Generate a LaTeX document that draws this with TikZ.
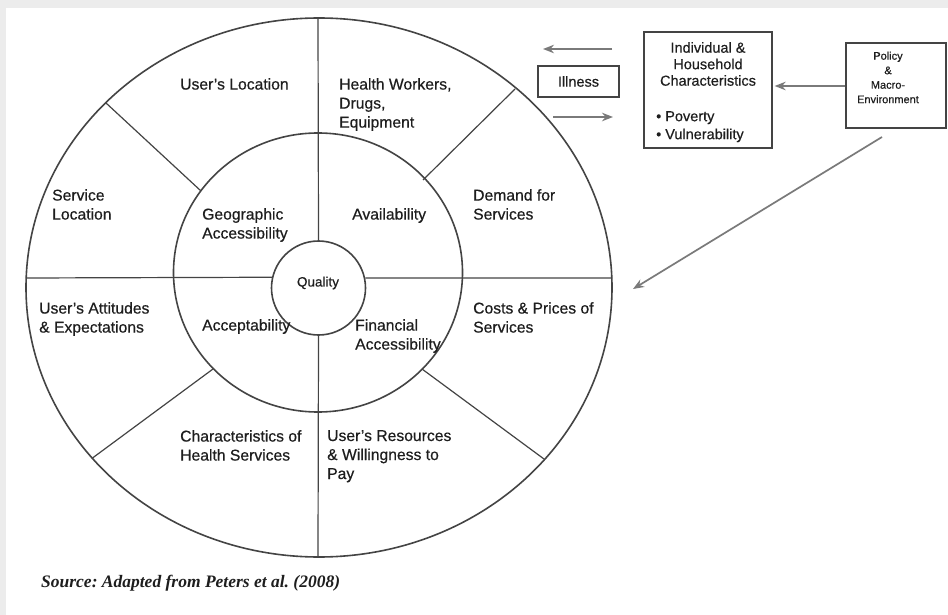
\documentclass[tikz,border=0pt]{standalone}
\usepackage{fontspec}
\setmainfont[FakeBold=0.5]{Liberation Sans}
\newfontfamily\srcfont{Liberation Serif}
\usetikzlibrary{arrows.meta}
\definecolor{txt}{HTML}{1E1E1E}
\definecolor{ln}{HTML}{444444}
\definecolor{arr}{HTML}{7A7A7A}
\definecolor{bg}{HTML}{ECECEC}
\frenchspacing
\begin{document}
\begin{tikzpicture}[x=1pt,y=-1pt,
  lbl/.style={anchor=north west, align=left, inner sep=0pt, text=txt,
    font=\fontsize{15.7}{19}\selectfont},
  ring/.style={draw=ln, line width=1.6pt},
  divider/.style={draw=ln, line width=1.2pt},
  boxed/.style={draw=ln, line width=1.3pt, rectangle, inner sep=0pt},
  garrow/.style={draw=arr, line width=1.7pt, -{Stealth[length=11pt,width=8.5pt]}}
]
\useasboundingbox (0,0) rectangle (948,615);
\fill[white] (0,0) rectangle (948,615);
\fill[bg] (0,0) rectangle (948,8);
\fill[bg] (0,0) rectangle (6,615);

% rings
\draw[ring] (319,287.5) ellipse [x radius=293, y radius=269.5];
\draw[ring] (318,272.5) ellipse [x radius=144.5, y radius=139.5];
\node[circle, draw=ln, line width=1.6pt, minimum size=94pt, inner sep=0pt] (quality) at (318.5,288) {};
\node[inner sep=0pt, text=txt, font=\fontsize{13.5}{16}\selectfont] (qtext) at (318,283) {Quality};

% dividers
\coordinate (top) at (318,18);
\coordinate (bottom) at (318,557);
\coordinate (left) at (26,278);
\coordinate (right) at (612,278);
\draw[divider] (top) -- (quality.north);
\draw[divider] (quality.south) -- (bottom);
\draw[divider] (left) -- (quality.167.7);
\draw[divider] (quality.12.3) -- (right);
\coordinate (ulo) at (106,103);  \coordinate (uli) at (201,191);
\coordinate (uro) at (515,89);   \coordinate (uri) at (423,180);
\coordinate (llo) at (92.5,458); \coordinate (lli) at (213,369);
\coordinate (lro) at (544,459);  \coordinate (lri) at (422,369);
\draw[divider] (ulo) -- (uli);
\draw[divider] (uro) -- (uri);
\draw[divider] (llo) -- (lli);
\draw[divider] (lro) -- (lri);

% labels
\node[lbl] (userloc) at (180,78) {User's Location};
\node[lbl] (health) at (339,78) {Health Workers,\\Drugs,\\Equipment};
\node[lbl] (servloc) at (52,189) {Service\\Location};
\node[lbl] (geo) at (202,208) {Geographic\\Accessibility};
\node[lbl] (avail) at (352,208) {Availability};
\node[lbl] (demand) at (473,189) {Demand for\\Services};
\node[lbl] (attitudes) at (39,302) {User's Attitudes\\\& Expectations};
\node[lbl] (accept) at (202,319) {Acceptability};
\node[lbl] (financial) at (355,319) {Financial\\Accessibility};
\node[lbl] (costs) at (473,302) {Costs \& Prices of\\Services};
\node[lbl] (charac) at (180,430) {Characteristics of\\Health Services};
\node[lbl] (resources) at (327,430) {User's Resources\\\& Willingness to\\Pay};

% right-hand boxes
\node[boxed, minimum width=81pt, minimum height=31pt, text=txt,
  font=\fontsize{14.5}{17}\selectfont] (illness) at (578.5,81.5) {Illness};
\node[boxed, minimum width=128pt, minimum height=116pt] (indiv) at (708,90) {};
\node[inner sep=0pt, align=center, text=txt, font=\fontsize{14.5}{16.5}\selectfont]
  (indivtext) at (708,64) {Individual \&\\Household\\Characteristics};
\node[anchor=north west, inner sep=0pt, align=left, text=txt, font=\fontsize{14.5}{18}\selectfont]
  (bullets) at (656,111) {\textbullet\hspace{4pt}Poverty\\\textbullet\hspace{4pt}Vulnerability};
\node[boxed, minimum width=100pt, minimum height=85pt] (policy) at (896,85.5) {};
\node[inner sep=0pt, align=center, text=txt, font=\fontsize{11}{14.5}\selectfont]
  (policytext) at (888,77.5) {Policy\\\&\\Macro-\\Environment};

% arrows
\coordinate (a1s) at (612,49); \coordinate (a1e) at (543,49);
\coordinate (a2s) at (553,117); \coordinate (a2e) at (613,117);
\draw[garrow] (a1s) -- (a1e);
\draw[garrow] (a2s) -- (a2e);
\draw[garrow, shorten >=2pt] (policy.west |- 0,86) -- (indiv.east |- 0,86);
\coordinate (ps) at (882,137); \coordinate (pe) at (633,289);
\draw[garrow] (ps) -- (pe);

% source
\node[anchor=west, inner sep=0pt, text=txt, font=\srcfont\bfseries\itshape\fontsize{17.5}{20}\selectfont]
  (source) at (41,583.5) {Source: Adapted from Peters et al. (2008)};
\end{tikzpicture}
\end{document}
